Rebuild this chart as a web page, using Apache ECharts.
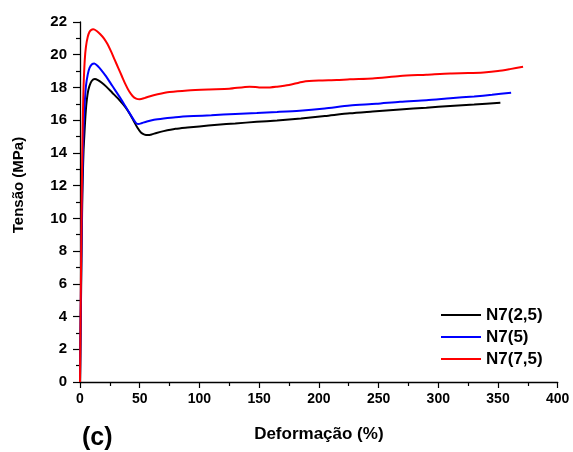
<!DOCTYPE html>
<html>
<head>
<meta charset="utf-8">
<script src="https://cdn.jsdelivr.net/npm/echarts@6/dist/echarts.min.js"></script>
<style>
  html, body { margin: 0; padding: 0; background: #fff; }
  #chart { width: 573px; height: 452px; }
</style>
</head>
<body>
<div id="chart"></div>
<script>
// Tensile curves: stress (MPa) versus strain (%)
const seriesNames = ['N7(2,5)', 'N7(5)', 'N7(7,5)'];
const seriesColors = ['#000000', '#0000ff', '#ff0000'];

const strainA = [0, 0.5, 1, 1.5, 2, 2.5, 3, 3.8, 4.5, 5.5, 7, 9, 11, 12.5, 15, 18, 22, 27, 33, 38, 42, 45, 48, 51, 54, 57, 60, 64, 70, 80, 90, 100, 115, 130, 148, 165, 185, 205, 226, 245, 268, 290, 310, 330, 352];
const stressA = [0, 3, 6, 9, 11.5, 13, 14.2, 15.3, 16.2, 17.1, 17.85, 18.3, 18.48, 18.52, 18.45, 18.3, 18.05, 17.68, 17.23, 16.8, 16.35, 15.95, 15.55, 15.25, 15.12, 15.09, 15.13, 15.22, 15.33, 15.47, 15.55, 15.62, 15.72, 15.8, 15.9, 15.98, 16.1, 16.25, 16.42, 16.53, 16.66, 16.76, 16.87, 16.96, 17.07];

const strainB = [0, 0.5, 1, 1.5, 2, 2.5, 3.2, 4, 5, 6.5, 8, 10, 12, 15, 18, 22, 27, 33, 38, 42, 45, 47, 49, 52, 56, 62, 70, 80, 95, 110, 130, 148, 165, 184, 205, 226, 248, 268, 290, 310, 330, 345, 361];
const stressB = [0, 3.5, 7, 10, 12.5, 14.3, 15.9, 17.1, 18.1, 18.8, 19.2, 19.42, 19.47, 19.3, 19.05, 18.66, 18.1, 17.44, 16.85, 16.37, 16.02, 15.82, 15.76, 15.83, 15.92, 16.02, 16.1, 16.18, 16.25, 16.3, 16.38, 16.44, 16.5, 16.58, 16.72, 16.9, 17.0, 17.13, 17.22, 17.34, 17.45, 17.55, 17.68];

const strainC = [0, 0.5, 1, 1.5, 2, 2.5, 3, 4, 5, 6.5, 8, 9.5, 11, 14, 17, 20, 23, 26, 29, 32, 35, 38, 41, 44, 47, 50, 54, 58, 65, 75, 90, 108, 125, 142, 150, 156, 165, 175, 187, 200, 215, 226, 245, 268, 290, 310, 325, 338, 350, 360, 371];
const stressC = [0, 4, 8, 11.5, 14.5, 16.6, 18.1, 19.7, 20.5, 21.1, 21.4, 21.52, 21.55, 21.45, 21.25, 21.0, 20.65, 20.2, 19.7, 19.2, 18.7, 18.2, 17.78, 17.48, 17.32, 17.28, 17.35, 17.45, 17.58, 17.72, 17.82, 17.88, 17.92, 18.05, 18.0, 17.99, 18.05, 18.15, 18.35, 18.42, 18.45, 18.5, 18.55, 18.7, 18.78, 18.86, 18.88, 18.92, 19.0, 19.12, 19.27];

const xTicks = { min: 0, max: 400, interval: 50 };
const yTicks = { min: 0, max: 22, interval: 2 };

const pairs = (xs, ys) => xs.map((x, i) => [x, ys[i]]);
const curves = [pairs(strainA, stressA), pairs(strainB, stressB), pairs(strainC, stressC)];

const font = 'Arial, "Liberation Sans", Helvetica, sans-serif';
const chart = echarts.init(document.getElementById('chart'), null, { renderer: 'canvas' });

chart.setOption({
  animation: false,
  backgroundColor: '#ffffff',
  grid: { left: 80, right: 15.3, top: 22, bottom: 70, containLabel: false },
  xAxis: {
    type: 'value',
    min: xTicks.min, max: xTicks.max, interval: xTicks.interval,
    name: 'Deformação (%)',
    nameLocation: 'middle',
    nameGap: 44,
    nameTextStyle: { color: '#000', fontFamily: font, fontWeight: 'bold', fontSize: 17 },
    axisLine: { show: true, onZero: false, lineStyle: { color: '#000', width: 1.3 } },
    axisTick: { show: true, inside: false, length: 6, lineStyle: { color: '#000', width: 1.2 } },
    minorTick: { show: true, splitNumber: 2, length: 4, lineStyle: { color: '#000', width: 1.2 } },
    axisLabel: { color: '#000', fontFamily: font, fontWeight: 'bold', fontSize: 14, margin: 10 },
    splitLine: { show: false }
  },
  yAxis: {
    type: 'value',
    min: yTicks.min, max: yTicks.max, interval: yTicks.interval,
    axisLine: { show: true, onZero: false, lineStyle: { color: '#000', width: 1.3 } },
    axisTick: { show: true, inside: false, length: 7, lineStyle: { color: '#000', width: 1.2 } },
    minorTick: { show: true, splitNumber: 2, length: 4, lineStyle: { color: '#000', width: 1.2 } },
    axisLabel: { color: '#000', fontFamily: font, fontWeight: 'bold', fontSize: 15, margin: 13 },
    splitLine: { show: false }
  },
  legend: {
    orient: 'vertical',
    left: 441,
    top: 306,
    padding: 0,
    icon: 'rect',
    itemWidth: 40,
    itemHeight: 2,
    itemGap: 4,
    textStyle: { color: '#000', fontFamily: font, fontWeight: 'bold', fontSize: 17, lineHeight: 18 },
    data: seriesNames
  },
  graphic: [{
    type: 'text',
    left: 82,
    top: 426,
    style: { text: '(c)', fill: '#000', font: 'bold 25px ' + font }
  }, {
    type: 'text',
    x: 19,
    y: 185,
    rotation: Math.PI / 2,
    style: { text: 'Tensão (MPa)', fill: '#000', font: 'bold 15px ' + font, align: 'center', verticalAlign: 'middle' }
  }],
  series: curves.map((d, i) => ({
    name: seriesNames[i],
    type: 'line',
    data: d,
    symbol: 'none',
    smooth: 0.25,
    clip: false,
    lineStyle: { color: seriesColors[i], width: 2 },
    itemStyle: { color: seriesColors[i] }
  }))
});
</script>
</body>
</html>
